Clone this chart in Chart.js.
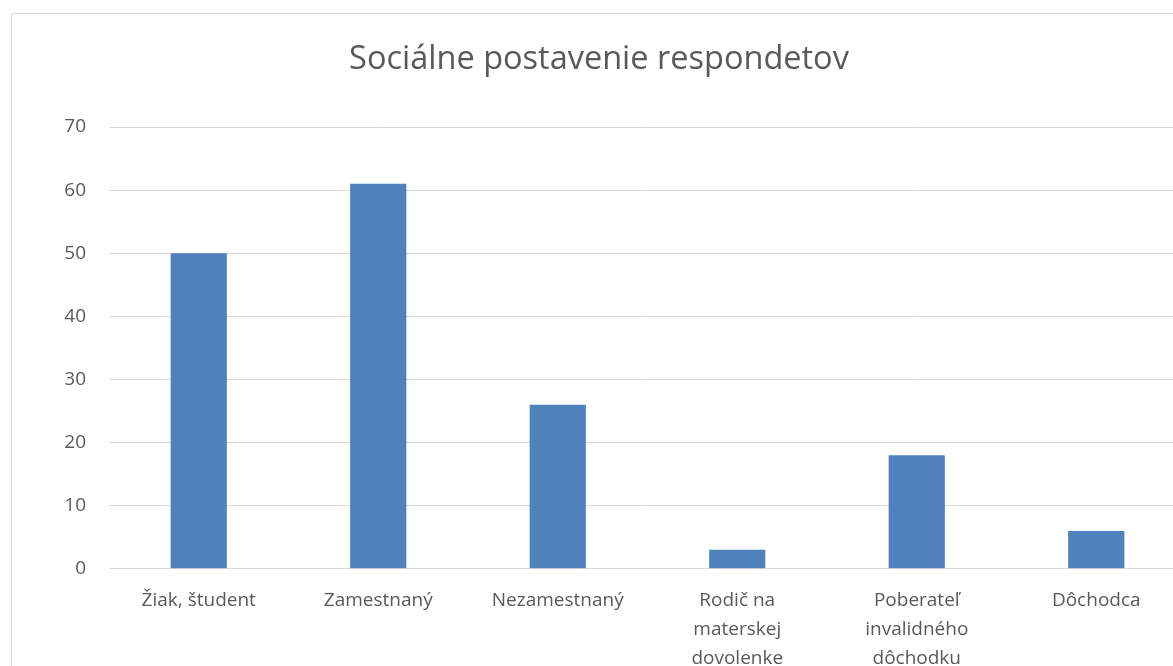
<!DOCTYPE html>
<html>
<head>
<meta charset="utf-8">
<script src="https://cdn.jsdelivr.net/npm/chart.js@4.4.0/dist/chart.umd.min.js"></script>
<style>
  html, body { margin: 0; padding: 0; background: #fff; overflow: hidden; width: 1173px; height: 666px; }
  #box { position: absolute; left: 11px; top: 13px; width: 1180px; height: 700px; border: 1px solid #d9d9d9; background: #fff; }
  #box canvas { display: block; }
</style>
</head>
<body>
<div id="box"><canvas id="graf" width="1180" height="700"></canvas></div>
<script>
// Sociálne postavenie respondetov — stĺpcový graf
const kategorie = [
  'Žiak, študent',
  'Zamestnaný',
  'Nezamestnaný',
  ['Rodič na', 'materskej', 'dovolenke'],
  ['Poberateľ', 'invalidného', 'dôchodku'],
  'Dôchodca'
];
const pocty = [50, 61, 26, 3, 18, 6];
const osY = { min: 0, max: 70, krok: 10 };

const sivaText = '#595959';
const sivaMriezka = '#d9d9d9';
const font = '"Open Sans", "Noto Sans", sans-serif';

new Chart(document.getElementById('graf'), {
  type: 'bar',
  data: {
    labels: kategorie,
    datasets: [{
      label: 'Počet',
      data: pocty,
      backgroundColor: '#4f81bd',
      borderWidth: 0,
      categoryPercentage: 1,
      barPercentage: 0.313
    }]
  },
  options: {
    responsive: false,
    animation: false,
    devicePixelRatio: 1,
    layout: { padding: { left: 0, right: 6, top: 26, bottom: 24 } },
    plugins: {
      legend: { display: false },
      tooltip: { enabled: false },
      title: {
        display: true,
        text: 'Sociálne postavenie respondetov',
        color: sivaText,
        font: { family: font, size: 32.5, weight: 'normal', lineHeight: 1.2 },
        padding: { top: 0, bottom: 48 }
      }
    },
    scales: {
      x: {
        grid: { display: false, drawTicks: false },
        border: { color: sivaMriezka, width: 1 },
        ticks: {
          color: sivaText,
          font: { family: font, size: 19, lineHeight: 1.53 },
          maxRotation: 0,
          autoSkip: false,
          padding: 17
        }
      },
      y: {
        min: osY.min,
        max: osY.max,
        afterFit: (os) => { os.width = 97; },
        grid: { color: sivaMriezka, lineWidth: 1, drawTicks: false },
        border: { display: false },
        ticks: {
          stepSize: osY.krok,
          color: sivaText,
          font: { family: font, size: 19 },
          padding: 23
        }
      }
    }
  }
});
</script>
</body>
</html>
